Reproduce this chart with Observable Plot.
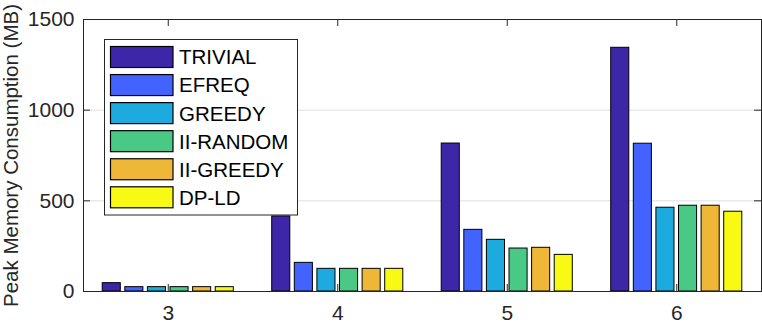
<!DOCTYPE html>
<html>
<head>
<meta charset="utf-8">
<script src="https://cdn.jsdelivr.net/npm/d3@7"></script>
<script src="https://cdn.jsdelivr.net/npm/@observablehq/plot@0.6"></script>
<style>
  html, body { margin: 0; padding: 0; background: white; }
  #chart { width: 762px; height: 322px; }
</style>
</head>
<body>
<div id="chart"></div>
<script>
const groups = [3, 4, 5, 6];
const series = ["TRIVIAL", "EFREQ", "GREEDY", "II-RANDOM", "II-GREEDY", "DP-LD"];
const trivial  = [46, 414, 816, 1344];
const efreq    = [24, 158, 340, 815];
const greedy   = [24, 125, 285, 462];
const iiRandom = [24, 125, 237, 473];
const iiGreedy = [24, 125, 241, 473];
const dpLd     = [24, 125, 202, 440];
const colors = ["#3E26A8", "#4363FF", "#1DAADF", "#4AC986", "#EFB737", "#F9FA14"];
const yTicks = [0, 500, 1000, 1500];
const xTicks = groups;
const yLabel = "Peak Memory Consumption (MB)";

const seriesValues = [trivial, efreq, greedy, iiRandom, iiGreedy, dpLd];
const data = [];
seriesValues.forEach((vals, si) => {
  vals.forEach((v, gi) => data.push({group: groups[gi], series: series[si], si, value: v}));
});

const W = 762, H = 322;
const mL = 83, mR = 1, mT = 19, mB = 31;
const xDomain = [2.5, 6.5], yDomain = [0, 1500];
const xPerPx = (xDomain[1] - xDomain[0]) / (W - mL - mR);
const yPerPx = (yDomain[1] - yDomain[0]) / (H - mT - mB);
const groupWidth = 0.8;
const barStep = groupWidth / series.length;
const barWidth = barStep * 0.8;
const tickLen = 7;
const axisColor = "#262626";
const fontFamily = "'Liberation Sans', Arial, Helvetica, sans-serif";
const tickFont = 21;

const plot = Plot.plot({
  width: W, height: H,
  marginLeft: mL, marginRight: mR, marginTop: mT, marginBottom: mB,
  style: {fontFamily, fontSize: tickFont + "px", color: axisColor, background: "white"},
  x: {type: "linear", domain: xDomain, nice: false},
  y: {domain: yDomain, nice: false},
  color: {domain: series, range: colors},
  marks: [
    Plot.ruleY([500, 1000], {stroke: "#dfdfdf", strokeWidth: 1}),
    Plot.rectY(data, {
      x1: d => d.group + (d.si - (series.length - 1) / 2) * barStep - barWidth / 2,
      x2: d => d.group + (d.si - (series.length - 1) / 2) * barStep + barWidth / 2,
      y: "value",
      fill: "series",
      stroke: "black",
      strokeWidth: 1
    }),
    Plot.ruleY(yTicks, {x1: xDomain[0], x2: xDomain[0] + tickLen * xPerPx, stroke: axisColor}),
    Plot.ruleY(yTicks, {x1: xDomain[1], x2: xDomain[1] - tickLen * xPerPx, stroke: axisColor}),
    Plot.ruleX(xTicks, {y1: yDomain[0], y2: yDomain[0] + tickLen * yPerPx, stroke: axisColor}),
    Plot.ruleX(xTicks, {y1: yDomain[1], y2: yDomain[1] - tickLen * yPerPx, stroke: axisColor}),
    Plot.frame({stroke: axisColor, strokeWidth: 1}),
    Plot.axisY({ticks: yTicks, tickSize: 0, tickPadding: 9, label: null, tickFormat: d => String(d), fontSize: tickFont, fill: axisColor}),
    Plot.axisX({ticks: xTicks, tickSize: 0, tickPadding: 14, label: null, tickFormat: d => String(d), fontSize: tickFont, fill: axisColor}),
    Plot.text([yLabel], {
      frameAnchor: "left", dx: -66, rotate: -90, text: d => d,
      textAnchor: "middle", lineAnchor: "bottom", fontSize: 20.5, fill: axisColor
    })
  ]
});

const svg = d3.select(plot);
// make sure the tick labels use the intended size
svg.selectAll("g[aria-label='x-axis tick label'], g[aria-label='y-axis tick label']")
  .attr("font-size", tickFont + "px")
  .style("font-size", tickFont + "px")
  .style("font-family", fontFamily)
  .selectAll("text").style("font-size", tickFont + "px");

// Legend (built from series / colors arrays)
const lg = svg.append("g").attr("class", "legend")
  .attr("font-family", fontFamily).attr("text-anchor", "start");
const lx = 104.5, ly = 39.5, lw = 193, lh = 175.5;
lg.append("rect").attr("x", lx).attr("y", ly).attr("width", lw).attr("height", lh)
  .attr("fill", "white").attr("stroke", axisColor).attr("stroke-width", 1);
const rowStep = 28.06, swX = 110.5, swY0 = 46.5, swW = 62.5, swH = 21;
series.forEach((s, i) => {
  lg.append("rect")
    .attr("x", swX).attr("y", swY0 + i * rowStep)
    .attr("width", swW).attr("height", swH)
    .attr("fill", colors[i]).attr("stroke", "black").attr("stroke-width", 1.2);
  lg.append("text")
    .attr("x", 179).attr("y", swY0 + i * rowStep + swH / 2)
    .attr("dy", "0.36em")
    .attr("text-anchor", "start")
    .attr("font-size", "20.5px").attr("fill", "black")
    .text(s);
});

document.getElementById("chart").appendChild(plot);
</script>
</body>
</html>
